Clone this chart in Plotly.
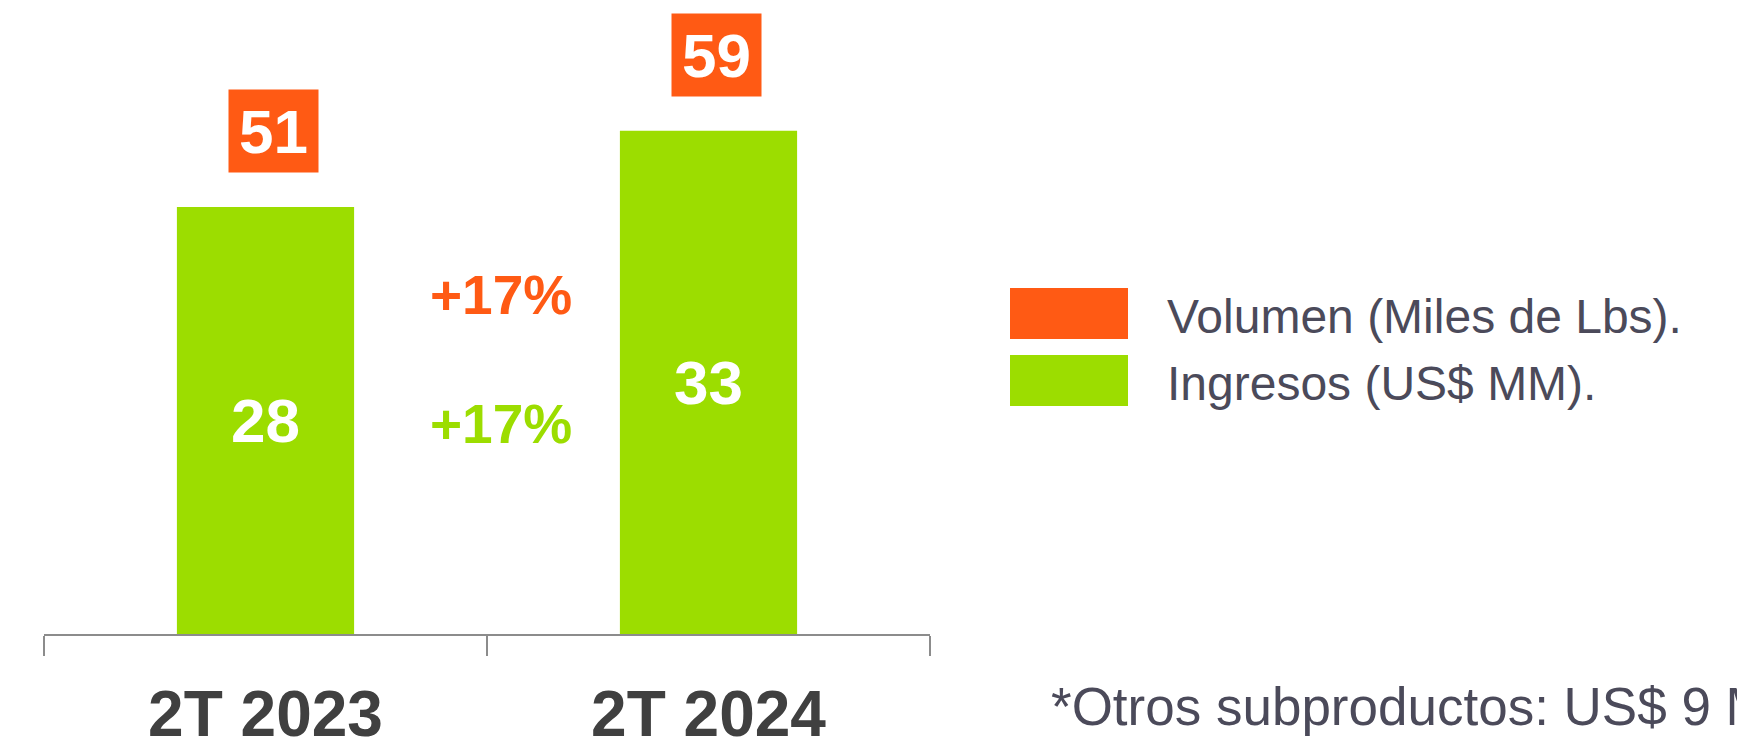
import plotly.graph_objects as go

# ---- data ----
categories = ["2T 2023", "2T 2024"]
ingresos = [28, 33]          # US$ MM (green bars)
volumen = [51, 59]           # Miles de Lbs (orange boxes)
growth_labels = ["+17%", "+17%"]   # volumen, ingresos
legend_labels = ["Volumen (Miles de Lbs).", "Ingresos (US$ MM)."]
footnote = "*Otros subproductos: US$ 9 MM."

W, H = 1737, 738
ORANGE = "#FF5A14"
GREEN = "#9CDD00"
TEXT = "#4B4A5A"
FONT = "Liberation Sans, Arial, sans-serif"

def px_x(p):
    return p / W

def px_y(p):
    return 1 - p / H

fig = go.Figure()
fig.add_trace(go.Bar(
    x=categories, y=ingresos, marker=dict(color=GREEN, line=dict(width=0)),
    text=[str(v) for v in ingresos], textposition="inside", insidetextanchor="middle",
    textfont=dict(family=FONT, size=62, color="white", weight="bold"),
    cliponaxis=False, showlegend=False, width=0.4,
))

annotations = []
for c, g, v in zip(categories, ingresos, volumen):
    annotations.append(dict(
        x=c, y=g, xref="x", yref="y", text=str(v), showarrow=False,
        yanchor="bottom", yshift=34, xshift=8, bgcolor=ORANGE, width=89, height=82,
        borderpad=0, font=dict(family=FONT, size=62, color="white", weight="bold"),
    ))

# growth labels between bars
annotations.append(dict(x=px_x(501), y=px_y(295), xref="paper", yref="paper", text=growth_labels[0],
                        xanchor="center", yanchor="middle",
                        showarrow=False, font=dict(family=FONT, size=55, color=ORANGE, weight="bold")))
annotations.append(dict(x=px_x(501), y=px_y(424), xref="paper", yref="paper", text=growth_labels[1],
                        xanchor="center", yanchor="middle",
                        showarrow=False, font=dict(family=FONT, size=55, color=GREEN, weight="bold")))

# legend
shapes = []
for lab, col, (y0, y1) in zip(legend_labels, [ORANGE, GREEN], [(288, 339), (355, 406)]):
    shapes.append(dict(type="rect", xref="paper", yref="paper",
                       x0=px_x(1010), x1=px_x(1128), y0=px_y(y1), y1=px_y(y0),
                       fillcolor=col, line=dict(width=0)))
    annotations.append(dict(x=px_x(1165), y=px_y((y0 + y1) / 2 + 3), xref="paper", yref="paper",
                            xanchor="left", yanchor="middle", text=lab, showarrow=False,
                            font=dict(family=FONT, size=48, color=TEXT)))

annotations.append(dict(x=px_x(1049), y=px_y(706), xref="paper", yref="paper",
                        xanchor="left", yanchor="middle", text=footnote, showarrow=False,
                        font=dict(family=FONT, size=53, color=TEXT)))

fig.update_layout(
    width=W, height=H, margin=dict(l=0, r=0, t=0, b=0, autoexpand=False),
    paper_bgcolor="white", plot_bgcolor="white",
    bargap=0.6, annotations=annotations, shapes=shapes, showlegend=False,
    xaxis=dict(domain=[px_x(44), px_x(930)], range=[-0.5, 1.5], type="category",
               automargin=False,
               showline=True, linecolor="#8C8C8C", linewidth=2,
               ticks="outside", tickson="boundaries", ticklen=20, tickwidth=2, tickcolor="#8C8C8C",
               tickfont=dict(family=FONT, size=64, color="#404040", weight="bold"),
               showgrid=False, zeroline=False, ticklabelstandoff=23),
    yaxis=dict(domain=[px_y(634), 1], range=[0, 634 / 15.25], visible=False,
               automargin=False, showgrid=False, zeroline=False),
)

fig.write_html("out.html", config={"displayModeBar": False},
               post_script="document.body.style.margin='0';")
